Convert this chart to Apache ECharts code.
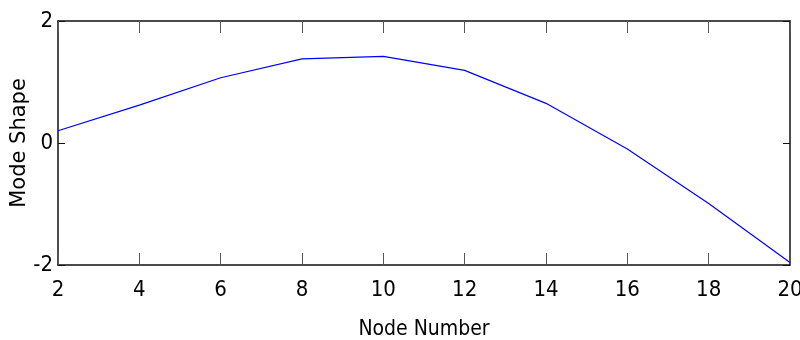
<!DOCTYPE html>
<html>
<head>
<meta charset="utf-8">
<script src="https://cdn.jsdelivr.net/npm/echarts@6/dist/echarts.min.js"></script>
<style>
html,body{margin:0;padding:0;background:#fff;}
#chart{width:800px;height:340px;}
</style>
</head>
<body>
<div id="chart"></div>
<script>
var nodes = [2, 4, 6, 8, 10, 12, 14, 16, 18, 20];
var modeShape = [0.2, 0.62, 1.07, 1.38, 1.42, 1.19, 0.65, -0.1, -0.99, -1.96];
var xTicks = [2, 20, 2];
var yTicks = [-2, 2, 2];
var xTitle = 'Node Number';
var yTitle = 'Mode Shape';

var narrow = '"Liberation Sans Narrow", "DejaVu Sans Condensed", "Arial Narrow", sans-serif';
var frame = {show: true, onZero: false, lineStyle: {color: '#111', width: 1.5}};
var chart = echarts.init(document.getElementById('chart'), null, {renderer: 'canvas'});
chart.setOption({
  animation: false,
  backgroundColor: '#fff',
  grid: {left: 58, right: 10, top: 21, bottom: 75, containLabel: false, outerBoundsMode: 'none'},
  xAxis: [{
    type: 'value', min: xTicks[0], max: xTicks[1], interval: xTicks[2], position: 'bottom',
    axisLine: frame,
    axisTick: {show: true, inside: true, length: 12, lineStyle: {color: '#555', width: 1}},
    axisLabel: {margin: 14, color: '#000', fontFamily: narrow, fontSize: 22},
    splitLine: {show: false},
    name: xTitle, nameLocation: 'middle', nameGap: 54, nameMoveOverlap: false,
    nameTextStyle: {color: '#000', fontFamily: narrow, fontSize: 21}
  }, {
    type: 'value', min: xTicks[0], max: xTicks[1], interval: xTicks[2], position: 'top',
    axisLine: frame,
    axisTick: {show: true, inside: true, length: 12, lineStyle: {color: '#555', width: 1}},
    axisLabel: {show: false}, splitLine: {show: false}
  }],
  yAxis: [{
    type: 'value', min: yTicks[0], max: yTicks[1], interval: yTicks[2], position: 'left',
    axisLine: frame,
    axisTick: {show: true, inside: true, length: 7, lineStyle: {color: '#111', width: 1}},
    axisLabel: {margin: 5, color: '#000', fontFamily: narrow, fontSize: 22},
    splitLine: {show: false},
    name: yTitle, nameLocation: 'middle', nameGap: 28, nameRotate: 90, nameMoveOverlap: false,
    nameTextStyle: {color: '#000', fontFamily: '"DejaVu Sans", sans-serif', fontSize: 21}
  }, {
    type: 'value', min: yTicks[0], max: yTicks[1], interval: yTicks[2], position: 'right',
    axisLine: frame,
    axisTick: {show: true, inside: true, length: 7, lineStyle: {color: '#111', width: 1}},
    axisLabel: {show: false}, splitLine: {show: false}
  }],
  series: [{
    type: 'line',
    data: nodes.map(function (n, i) { return [n, modeShape[i]]; }),
    showSymbol: false,
    lineStyle: {color: '#0000ff', width: 1.2},
    itemStyle: {color: '#0000ff'}
  }]
});
</script>
</body>
</html>
